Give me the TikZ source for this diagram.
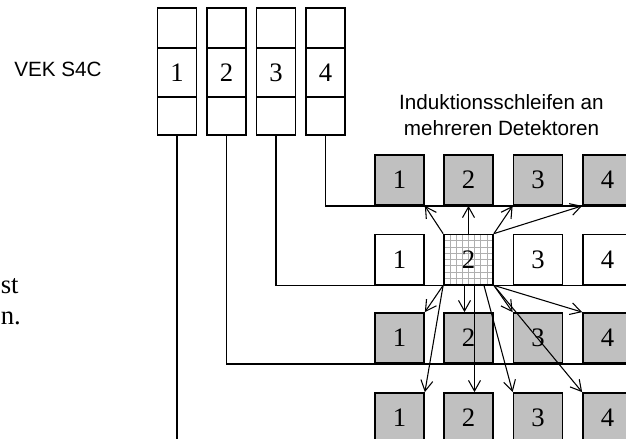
\documentclass[tikz,border=0pt]{standalone}
\usepackage{fontspec}
\setmainfont{Liberation Serif}
\newfontfamily\labelfont{Liberation Sans}
\usepackage{xcolor}
\usepackage{tikz}
\usetikzlibrary{arrows.meta}
\usetikzlibrary{calc}
\definecolor{detgray}{RGB}{192,192,192}
\definecolor{gridgray}{RGB}{175,175,175}

\begin{document}
\begin{tikzpicture}[
    x=0.75pt, y=-0.75pt,
    every node/.style={font=\fontsize{20}{24}\selectfont, inner sep=0pt},
    vek/.style={draw, line width=1.3pt, minimum width=29.25pt},
    det/.style={draw, line width=1.3pt, fill=detgray,
      minimum width=36.75pt, minimum height=37.5pt},
    detw/.style={det, fill=white},
    detgrid/.style={detw, path picture={
        \foreach \k in {1,...,7} {
          \draw[gridgray, line width=0.5pt]
            ($(path picture bounding box.north west)!\k/8!(path picture bounding box.north east)$)
            -- ($(path picture bounding box.south west)!\k/8!(path picture bounding box.south east)$);
          \draw[gridgray, line width=0.5pt]
            ($(path picture bounding box.north west)!\k/8!(path picture bounding box.south west)$)
            -- ($(path picture bounding box.north east)!\k/8!(path picture bounding box.south east)$);
        }}},
    link/.style={line width=1.1pt},
    arr/.style={-{Straight Barb[length=8pt, width=9pt]}, line width=0.8pt},
    lbl/.style={font=\labelfont\fontsize{15.5}{20}\selectfont, align=center},
  ]
  \clip (0,0) rectangle (626,439);

  % Labels
  \node[lbl, anchor=base west] (veklbl) at (14,76) {VEK S4C};
  \node[lbl] (detlbl) at (501.5,115)
    {Induktionsschleifen an\\mehreren Detektoren};
  \node[anchor=base west] (txta) at (0.5,293) {st};
  \node[anchor=base west] (txtb) at (0.5,324) {n.};

  % VEK columns
  \node[vek, minimum height=30pt]    (v1a) at (177,28)   {};
  \node[vek, minimum height=36.75pt] (v1)  at (177,72.5) {1};
  \node[vek, minimum height=28.5pt]  (v1b) at (177,116)  {};
  \node[vek, minimum height=30pt]    (v2a) at (226.5,28)   {};
  \node[vek, minimum height=36.75pt] (v2)  at (226.5,72.5) {2};
  \node[vek, minimum height=28.5pt]  (v2b) at (226.5,116)  {};
  \node[vek, minimum height=30pt]    (v3a) at (276,28)   {};
  \node[vek, minimum height=36.75pt] (v3)  at (276,72.5) {3};
  \node[vek, minimum height=28.5pt]  (v3b) at (276,116)  {};
  \node[vek, minimum height=30pt]    (v4a) at (325.5,28)   {};
  \node[vek, minimum height=36.75pt] (v4)  at (325.5,72.5) {4};
  \node[vek, minimum height=28.5pt]  (v4b) at (325.5,116)  {};

  % Detectors
  \node[det]  (r1d1) at (399.5,180) {1};
  \node[det]  (r1d2) at (468.5,180) {2};
  \node[det]  (r1d3) at (538,180)   {3};
  \node[det]  (r1d4) at (607.5,180) {4};
  \node[detw] (r2d1) at (399.5,259.5) {1};
  \node[detgrid]
              (r2d2) at (468.5,259.5) {2};
  \node[detw] (r2d3) at (538,259.5)   {3};
  \node[detw] (r2d4) at (607.5,259.5) {4};
  \node[det]  (r3d1) at (399.5,338) {1};
  \node[det]  (r3d2) at (468.5,338) {2};
  \node[det]  (r3d3) at (538,338)   {3};
  \node[det]  (r3d4) at (607.5,338) {4};
  \node[det]  (r4d1) at (399.5,418) {1};
  \node[det]  (r4d2) at (468.5,418) {2};
  \node[det]  (r4d3) at (538,418)   {3};
  \node[det]  (r4d4) at (607.5,418) {4};

  % Lines from VEK to detector rows
  \coordinate (v1end) at (177,445);
  \draw[link] (v1b.south) -- (v1b.south |- v1end);
  \draw[link] (v2b.south) |- (r3d4.south east);
  \draw[link] (v3b.south) |- (r2d4.south east);
  \draw[link] (v4b.south) |- (r1d4.south east);

  % Arrows up
  \draw[arr] (r2d2.north west) -- (r1d1.south east);
  \draw[arr] (r2d2.north) -- (r1d2.south);
  \draw[arr] (r2d2.north east) -- (r1d3.south west);
  \draw[arr] (r2d2.north east) -- (r1d4.south west);

  % Arrows down
  \draw[arr] (r2d2.south west) -- (r3d1.north east);
  \draw[arr] (r2d2.south west) -- (r4d1.north east);
  \draw[arr] ([xshift=-3pt]r2d2.south) -- ([xshift=-3pt]r3d2.north);
  \draw[arr] ([xshift=4.5pt]r2d2.south) -- ([xshift=4.5pt]r4d2.north);
  \draw[arr] ([xshift=11.6pt]r2d2.south) -- (r4d3.north west);
  \draw[arr] (r2d2.south east) -- (r3d3.north west);
  \draw[arr] (r2d2.south east) -- (r3d4.north west);
  \draw[arr] (r2d2.south east) -- (r4d4.north west);
\end{tikzpicture}
\end{document}
